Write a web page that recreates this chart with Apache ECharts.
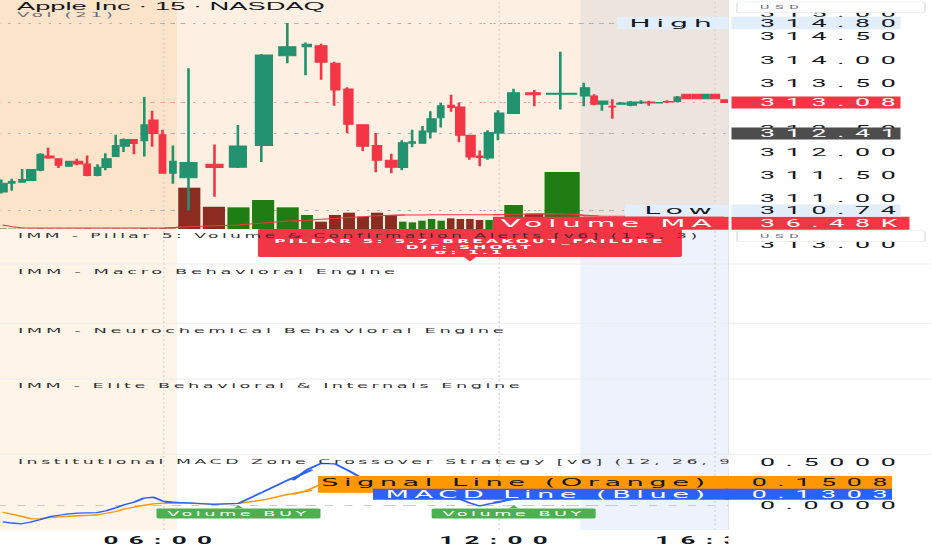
<!DOCTYPE html>
<html><head><meta charset="utf-8">
<script src="https://cdn.jsdelivr.net/npm/echarts@6/dist/echarts.min.js"></script>
<style>
html,body{margin:0;padding:0;background:#fff;overflow:hidden;width:932px;height:550px}
#c{width:358.4615px;height:550px;transform:scaleX(2.6);transform-origin:0 0}
#c text[style*="DejaVu"],#c text[font-family*="DejaVu"]{letter-spacing:0.2em}
#c text[style*="Roboto"],#c text[font-family*="Roboto"]{letter-spacing:0.4em}
</style></head><body><div id="c"></div>
<script>
// ---------------- data ----------------
const times = ['01:45','02:00','02:15','02:30','02:45','03:00','03:15','03:30','03:45','04:00','04:15','04:30','04:45','05:00','05:15','05:30','05:45','06:00','06:15',
 '06:30','06:45','07:00','07:15','07:30',
 '07:45','08:00','08:15','08:30','08:45','09:00','09:15',
 '09:30','09:45','10:00','10:15','10:30','10:45','11:00','11:15','11:30','11:45','12:00',
 '12:15','12:30','12:45',
 '13:00','13:15','13:30','13:45','14:00','14:15','14:30','14:45','15:00','15:15','15:30','15:45','16:00','16:15','16:30','16:45'];
const open  = [311.14,311.33,311.35,311.39,311.61,311.92,311.86,311.70,311.81,311.75,311.50,311.67,311.91,312.13,312.28,312.25,312.70,312.38,311.55,
 311.45,311.74,311.68,312.15,314.09, 314.29,314.31,313.93,313.37,312.60,312.15,311.83,
 311.67,312.20,312.20,312.44,312.75,313.02,312.98,312.37,311.92,311.88,312.42, 312.84,313.29,313.26,
 313.22,313.22,313.04,313.00,313.04,313.02,313.07,313.09,313.07,313.10,313.10,313.26,313.26,313.16,313.26,313.14];
const high  = [311.41,311.43,311.64,311.64,311.98,312.10,311.86,311.81,311.86,311.93,311.74,311.98,312.38,312.30,312.28,313.20,312.90,312.49,312.15,
 313.82,312.17,312.59,314.13,314.80, 314.38,314.35,313.96,313.41,312.60,312.42,311.97,
 312.26,312.49,312.57,312.89,313.07,313.25,313.08,312.37,312.04,312.48,312.91, 313.38,313.35,314.18,
 313.51,313.26,313.11,313.15,313.09,313.11,313.13,313.12,313.09,313.13,313.22,313.26,313.26,313.26,313.26,313.14];
const low   = [311.11,311.17,311.35,311.38,311.59,311.86,311.66,311.70,311.72,311.48,311.48,311.61,311.90,312.01,311.96,311.91,312.12,311.55,311.32,
 310.74,311.04,311.66,311.79,313.93, 313.67,313.57,313.01,312.42,312.03,311.57,311.55,
 311.61,312.11,312.19,312.30,312.54,312.88,312.22,311.84,311.70,311.84,312.26, 312.84,313.00,312.93,
 313.00,313.02,312.90,312.73,313.03,313.00,313.05,313.01,313.06,313.07,313.08,313.15,313.15,313.15,313.15,313.08];
const close = [311.33,311.37,311.41,311.63,311.96,311.88,311.72,311.81,311.75,311.50,311.68,311.86,312.15,312.28,312.19,312.60,312.41,311.55,311.81,
 311.78,311.67,312.14,314.11,314.29, 314.34,313.95,313.35,312.61,312.13,311.83,311.68,
 312.21,312.23,312.46,312.73,313.01,312.97,312.37,311.90,311.89,312.43,312.85, 313.29,313.25,313.28,
 313.40,313.04,313.11,312.98,313.07,313.09,313.09,313.07,313.08,313.09,313.20,313.16,313.16,313.26,313.16,313.08];
const volume = [1.5,1,1,1,1.5,1,1,1,1,1.5,1,1,1.5,1,1,2,1.5,2,1.5,
 124,67,65,87,65, 42,22,42,49,37,49,42,
 22,20,25,30,25,32,30,30,27,27,28, 72,45,171,
 30,28,22,35,18,20,15,14,12,16,28,30,26,24,22,25];           // thousands
const volumeMA = [12,7,4,3,3,3,3,3,3,3,3,3,3,3,3,3,3,3,3,
 7,9.5,12,18,24, 26,29,31.5,34.5,37,39.5,41,
 42,42,42,42.5,42.5,42.5,42.5,42.5,42.5,42.5,42.5, 44,45,46,
 39,38.7,38.4,38.1,37.9,37.7,37.5,37.3,37.1,37,36.9,36.8,36.7,36.6,36.55,36.48];
const macd = [-0.194,-0.206,-0.215,-0.194,-0.165,-0.132,-0.115,-0.100,-0.091,-0.088,-0.085,-0.062,-0.026,0.012,0.041,0.087,0.096,0.051,0.039,
 0.029,0.012,0.025,0.159,0.296, 0.418,0.494,0.488,0.406,0.312,0.241,0.188,
 0.159,0.129,0.108,0.094,0.085,0.080,0.072,0.029,-0.006,0.018,0.035, 0.071,0.100,0.124,
 0.126,0.128,0.129,0.129,0.130,0.130,0.131,0.131,0.131,0.131,0.130,0.130,0.130,0.1305,0.1304,0.1303];
const signal = [-0.080,-0.104,-0.128,-0.157,-0.154,-0.144,-0.135,-0.127,-0.121,-0.116,-0.112,-0.092,-0.071,-0.039,-0.018,0.000,0.018,0.026,0.026,
 0.025,0.015,0.025,0.064,0.129, 0.176,0.247,0.294,0.324,0.335,0.329,0.318,
 0.305,0.292,0.278,0.264,0.250,0.236,0.221,0.206,0.190,0.178,0.168, 0.162,0.158,0.156,
 0.1555,0.155,0.1545,0.154,0.1535,0.153,0.1527,0.1524,0.152,0.1518,0.1515,0.1513,0.1511,0.151,0.1509,0.1508];
const priceTicks = [315, 314.5, 314, 313.5, 312.5, 312, 311.5, 311];
const macdTicks = [0.5, 0];
const timeLabels = ['06:00','12:00','16:30'];
const levels = {high:314.80, low:310.74, last:313.08, prevClose:312.41};
const volMALast = 36.48, macdLast = 0.1303, signalLast = 0.1508;
const buySignals = ['07:00','12:15'];
const pillarSignal = {time:'11:15', lines:['PILLAR 5: 5.7_BREAKOUT_FAILURE','Dir: SHORT','σ: 1.1']};
const titles = {main:'Apple Inc · 15 · NASDAQ', vol:'Vol (21)',
  panes:['IMM - Pillar 5: Volume & Confirmation Alerts [v6] (1.5, 3)','IMM - Macro Behavioral Engine','IMM - Neurochemical Behavioral Engine','IMM - Elite Behavioral & Internals Engine','Institutional MACD Zone Crossover Strategy [v6] (12, 26, 9)']};

// ---------------- layout (reference pixels) ----------------
const K = 2.6, W = 932 / K, P = v => v / K;
const SEGS = [
  {from:0,  n:19, x0:-2,    x1:177,   cw:'80%', vw:'85%', s:'pre'},
  {from:19, n:5,  x0:177,   x1:300,   cw:'72%', vw:'90%', s:'rth'},
  {from:24, n:7,  x0:300,   x1:398,   cw:'73%', vw:'85%', s:'rth'},
  {from:31, n:11, x0:398,   x1:503.5, cw:'82%', vw:'78%', s:'rth'},
  {from:42, n:2,  x0:503.5, x1:544,   cw:'68%', vw:'92%', s:'rth'},
  {from:44, n:1,  x0:544,   x1:580.3, cw:'80%', vw:'97%', s:'rth'},
  {from:45, n:16, x0:580.3, x1:728.5, cw:'86%', vw:'80%', s:'post'}
];
const PRICE_MIN = 310.34, PRICE_MAX = 315.3, VOL_MAX = 687, MACD_MIN = -0.288, MACD_MAX = 3.241;
const UP='#22926f', DOWN='#f23645', VOL_UP='#1f7d13', VOL_DOWN='#8c2b1f';
const N = times.length;

function rightBox(text, bg, fg, o) {
  return Object.assign({show:true, position:'end', distance:P(3), align:'left', verticalAlign:'middle',
    formatter:text, backgroundColor:bg, color:fg, fontFamily:'Roboto', fontSize:10.3, lineHeight:12,
    padding:[0,0,0,P(28.5)], width:P(169)-P(28.5), opacity:1}, o || {});
}
function leftBox(text, boxW, bg, fg, padRpx, o) {
  const pr = P(padRpx);
  return Object.assign({show:true, position:'end', distance:0, align:'right', verticalAlign:'middle',
    formatter:text, backgroundColor:bg, color:fg, fontFamily:'DejaVu Sans', fontSize:11, lineHeight:12.5,
    padding:[0,pr,0,0], width:P(boxW)-pr, opacity:1}, o || {});
}
const hidden = {color:'rgba(0,0,0,0)', width:0.01, type:'solid'};
const guideLine = {color:'#a9acb4', width:1, type:[0.9,3]};
const vGrid = {color:'#d3d3d3', width:0.45, type:[2,2.5]};

const grid=[], xAxis=[], yAxis=[], series=[];
SEGS.forEach((s, si) => {
  const d = (s.x1 - s.x0) / s.n;
  const hasPrev = s.from > 0, hasNext = s.from + s.n < N;
  const idx = [];
  if (hasPrev) idx.push(s.from - 1);
  for (let i = s.from; i < s.from + s.n; i++) idx.push(i);
  if (hasNext) idx.push(s.from + s.n);
  const own = i => i >= s.from && i < s.from + s.n;
  const ex0 = s.x0 - (hasPrev ? d : 0), ex1 = s.x1 + (hasNext ? d : 0);
  const last = si === SEGS.length - 1;
  const cats = idx.map(i => times[i]);
  const ownTimes = cats.filter((t, k) => own(idx[k]) && timeLabels.includes(t));
  const g = grid.length, xa = xAxis.length, ya = yAxis.length;
  grid.push({left:P(ex0), width:P(ex1-ex0), top:0, height:229, outerBoundsMode:'none'});
  grid.push({left:P(ex0), width:P(ex1-ex0), top:229, height:301, outerBoundsMode:'none'});
  xAxis.push({type:'category', gridIndex:g, data:cats, show:false});
  xAxis.push({type:'category', gridIndex:g+1, data:cats, axisLine:{show:false}, axisTick:{show:false}, splitLine:{show:false},
    axisLabel:{interval:(k, v) => own(idx[k]) && timeLabels.includes(v), margin:6, fontFamily:'Roboto', fontWeight:'bold', fontSize:10, color:'#131722'}});
  yAxis.push({type:'value', gridIndex:g, min:PRICE_MIN, max:PRICE_MAX, show:last, position:'right',
    axisLine:{show:false}, axisTick:{show:false}, splitLine:{show:false},
    axisLabel:{customValues:priceTicks, formatter:v => v.toFixed(2), margin:P(31.5), fontFamily:'Roboto', fontSize:10.3, color:'#131722'}});
  yAxis.push({type:'value', gridIndex:g, min:0, max:VOL_MAX, show:false});
  yAxis.push({type:'value', gridIndex:g+1, min:MACD_MIN, max:MACD_MAX, show:last, position:'right',
    axisLine:{show:false}, axisTick:{show:false}, splitLine:{show:false},
    axisLabel:{customValues:macdTicks, formatter:v => v.toFixed(4), margin:P(31.5), fontFamily:'Roboto', fontSize:10.3, color:'#131722'}});

  // guide lines in the price pane (below the candles)
  series.push({type:'line', xAxisIndex:xa, yAxisIndex:ya, data:idx.map(() => '-'), silent:true,
    markLine:{z:1, silent:true, symbol:['none','none'], label:{show:false}, animation:false,
      data:[{yAxis:levels.high, lineStyle:guideLine}, {yAxis:levels.low, lineStyle:guideLine},
            {yAxis:levels.prevClose, lineStyle:guideLine}, {yAxis:levels.last, lineStyle:Object.assign({}, guideLine, {color:'#f59aa0'})}]
        .concat(ownTimes.map(t => ({xAxis:t, lineStyle:vGrid})))}});
  // volume
  series.push({type:'bar', xAxisIndex:xa, yAxisIndex:ya+1, barWidth:s.vw, silent:true,
    data:idx.map(i => own(i) ? {value:volume[i], itemStyle:{color:(i === 0 ? close[i] >= open[i] : close[i] >= close[i-1]) ? VOL_UP : VOL_DOWN}} : '-'),
    markLine: last ? {silent:true, symbol:['none','none'], animation:false, data:[
      {yAxis:volMALast, lineStyle:hidden, label:rightBox(volMALast.toFixed(2) + 'K', '#f23645', '#fff', {verticalAlign:'top', lineHeight:13, width:P(178)-P(28.5)})},
      {yAxis:volMALast, lineStyle:hidden, label:leftBox('Volume MA', 235.5, '#f23645', '#fff', 11, {fontSize:11.3, lineHeight:13, verticalAlign:'top'})}
    ]} : undefined});
  // volume MA
  series.push({type:'line', xAxisIndex:xa, yAxisIndex:ya+1, data:idx.map(i => volumeMA[i]), symbol:'none', silent:true,
    lineStyle:{color:'#f23645', width:1}});
  // candles
  series.push({type:'candlestick', xAxisIndex:xa, yAxisIndex:ya, barWidth:s.cw, silent:true,
    data:idx.map(i => own(i) ? [open[i], close[i], low[i], high[i]] : '-'),
    itemStyle:{color:UP, color0:DOWN, borderColor:UP, borderColor0:DOWN, borderWidth:1},
    markLine: last ? {silent:true, symbol:['none','none'], animation:false, data:[
      {yAxis:levels.high, lineStyle:hidden, label:rightBox(levels.high.toFixed(2), '#e3eefb', '#131722', {lineHeight:12.5})},
      {yAxis:levels.high, lineStyle:hidden, label:leftBox('High', 111.5, '#e3eefb', '#131722', 10.8)},
      {yAxis:levels.low, lineStyle:hidden, label:rightBox(levels.low.toFixed(2), '#e3eefb', '#131722')},
      {yAxis:levels.low, lineStyle:hidden, label:leftBox('Low', 103.5, '#e3eefb', '#131722', 10.8, {lineHeight:12})},
      {yAxis:levels.last, lineStyle:hidden, label:rightBox(levels.last.toFixed(2), '#f23645', '#fff')},
      {yAxis:levels.prevClose, lineStyle:hidden, label:rightBox(levels.prevClose.toFixed(2), '#4d4d4d', '#fff')}
    ]} : undefined});
  // signal (orange) + guides of lower panes
  series.push({type:'line', xAxisIndex:xa+1, yAxisIndex:ya+2, data:idx.map(i => signal[i]), symbol:'none', silent:true,
    lineStyle:{color:'#ff9800', width:1.3},
    markLine:{z:1, silent:true, symbol:['none','none'], label:{show:false}, animation:false,
      data:[{yAxis:0, lineStyle:{color:'#c9c9c9', width:1, type:[3,4.5]}}].concat(ownTimes.map(t => ({xAxis:t, lineStyle:vGrid})))}});
  // MACD (blue)
  const buys = cats.filter((t, k) => own(idx[k]) && buySignals.includes(t));
  series.push({type:'line', xAxisIndex:xa+1, yAxisIndex:ya+2, data:idx.map(i => macd[i]), symbol:'none', silent:true,
    lineStyle:{color:'#2962ff', width:1.3},
    markPoint: buys.length ? {silent:true, symbol:'triangle', symbolSize:[P(9),3], symbolOffset:[0,1.2], itemStyle:{color:'#4caf50'}, animation:false,
      label:{show:true, position:'bottom', distance:0.3, formatter:'Volume BUY', backgroundColor:'#4caf50', color:'#fff',
        fontFamily:'DejaVu Sans', fontSize:6.8, lineHeight:10, width:P(164), align:'center', borderRadius:1},
      data:buys.map(t => ({coord:[t, 0]}))} : undefined,
    markLine: last ? {silent:true, symbol:['none','none'], animation:false, data:[
      {yAxis:signalLast, lineStyle:hidden, label:rightBox(signalLast.toFixed(4), '#ff9800', '#131722', {distance:-P(3.5), verticalAlign:'bottom', lineHeight:13, padding:[0,0,3.7,P(26.7)], width:P(167)-P(26.7)})},
      {yAxis:signalLast, lineStyle:hidden, label:leftBox('Signal Line (Orange)', 410.5, '#ff9800', '#131722', 18, {fontSize:10.5, lineHeight:13, verticalAlign:'bottom', padding:[0,P(18),3.7,0]})},
      {yAxis:macdLast, lineStyle:hidden, label:rightBox(macdLast.toFixed(4), '#2962ff', '#fff', {distance:-P(3.5), lineHeight:11, padding:[0,0,0,P(26.7)], width:P(167)-P(26.7)})},
      {yAxis:macdLast, lineStyle:hidden, label:leftBox('MACD Line (Blue)', 355.5, '#2962ff', '#fff', 18, {fontSize:10.5, lineHeight:11})}
    ]} : undefined});
});

// ---------------- chrome ----------------
const candleX = i => { const s = SEGS.find(s => i >= s.from && i < s.from + s.n); return s.x0 + (i - s.from + 0.5) * (s.x1 - s.x0) / s.n; };
const sessSpan = key => { const ss = SEGS.filter(s => s.s === key); return [Math.max(0, ss[0].x0), ss[ss.length-1].x1]; };
const rect = (x0, x1, y0, y1, fill, z) => ({type:'rect', silent:true, z, shape:{x:P(x0), y:y0, width:P(x1-x0), height:y1-y0}, style:{fill}});
const txt = (text, x, y, font, fill, z, align) => ({type:'text', silent:true, z, x:P(x), y, style:{text, font, fill, align:align || 'left', verticalAlign:'middle'}});
const hline = (y, color) => ({type:'line', silent:true, z:-50, shape:{x1:0, y1:y, x2:W, y2:y}, style:{stroke:color, lineWidth:1}});
const pre = sessSpan('pre'), rth = sessSpan('rth'), post = sessSpan('post');
const pcx = candleX(times.indexOf(pillarSignal.time));
const paneFont = 'normal 6.9px "DejaVu Sans"';
const graphic = [
  rect(pre[0], pre[1], 0, 229, '#fce4cb', -100),
  rect(rth[0], rth[1], 0, 229, '#fdf0e2', -100),
  rect(post[0], post[1], 0, 229, '#ede4dd', -100),
  rect(pre[0], pre[1], 229, 530, '#fef4e8', -100),
  rect(post[0], post[1], 229, 530, '#edf2fd', -100),
  hline(264, '#ececec'), hline(323.3, '#ececec'), hline(379, '#ececec'), hline(454.3, '#ececec'),
  {type:'line', silent:true, z:-50, shape:{x1:P(728.5), y1:0, x2:P(728.5), y2:530}, style:{stroke:'#e0e3eb', lineWidth:0.4}},
  // pillar label
  {type:'rect', silent:true, z:10, shape:{x:P(pcx-212), y:229, width:P(424), height:28, r:1}, style:{fill:'#f23645'}},
  {type:'polygon', silent:true, z:10, shape:{points:[[P(pcx-6),257],[P(pcx+6),257],[P(pcx),261.5]]}, style:{fill:'#f23645'}},
  txt(pillarSignal.lines[0], pcx, 241, 'bold 6px "DejaVu Sans"', '#fff', 11, 'center'),
  txt(pillarSignal.lines[1], pcx, 246.5, 'bold 6px "DejaVu Sans"', '#fff', 11, 'center'),
  txt(pillarSignal.lines[2], pcx, 252, 'bold 6px "DejaVu Sans"', '#fff', 11, 'center'),
  // titles
  txt(titles.main, 17, 6.5, 'normal 10.5px "Liberation Sans"', '#131722', 12),
  txt(titles.vol, 17, 14.8, 'normal 7px "DejaVu Sans"', '#6a6d78', 12),
  txt(titles.panes[0], 18, 236, 'normal 6.6px "DejaVu Sans"', '#333333', 12),
  txt(titles.panes[1], 18, 271, paneFont, '#333333', 12),
  txt(titles.panes[2], 18, 330, paneFont, '#333333', 12),
  txt(titles.panes[3], 18, 386, 'normal 6.8px "DejaVu Sans"', '#333333', 12),
  txt(titles.panes[4], 18, 462, 'normal 6.7px "DejaVu Sans"', '#333333', 12),
  rect(728.5, 758, 455, 470, '#fff', 15),
  rect(728.5, 932, 531, 550, '#fff', 20),
  // currency boxes
  txt('313.00', 760, 244.5, 'normal 10.3px Roboto', '#131722', 19),
  {type:'rect', silent:true, z:20, shape:{x:P(737), y:2, width:P(188), height:10.7, r:1.5}, style:{fill:'#fff', stroke:'#e0e3eb', lineWidth:0.6}},
  {type:'rect', silent:true, z:20, shape:{x:P(737), y:230.7, width:P(188), height:11, r:1.5}, style:{fill:'#fff', stroke:'#e0e3eb', lineWidth:0.6}},
  txt('USD', 760, 7.4, 'normal 5.5px Roboto', '#6a6d78', 21),
  txt('USD', 760, 236.2, 'normal 5.5px Roboto', '#6a6d78', 21)
];

const chart = echarts.init(document.getElementById('c'), null, {renderer:'svg', width:W, height:550});
chart.setOption({animation:false, backgroundColor:'#fff', grid, xAxis, yAxis, series, graphic});
</script></body></html>
